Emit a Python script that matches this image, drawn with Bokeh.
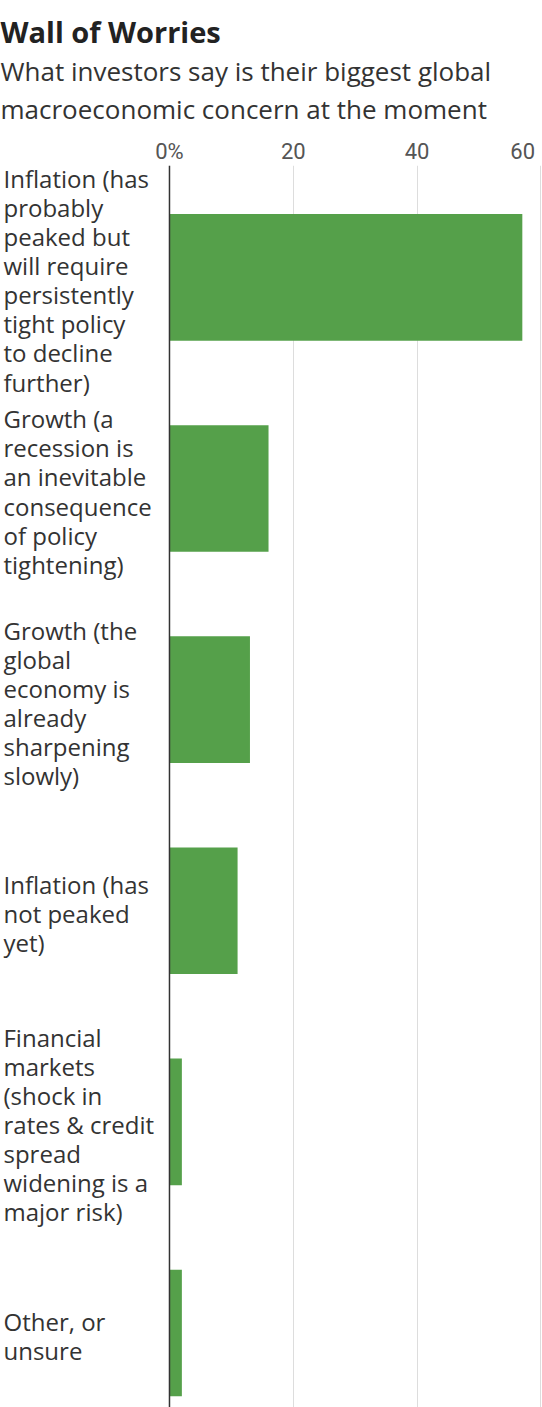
from bokeh.plotting import figure
from bokeh.models import Range1d, FixedTicker, Span, Title, ColumnDataSource
from bokeh.core.properties import value
from bokeh.embed import file_html
from bokeh.resources import INLINE

title = "Wall of Worries"
subtitle_lines = ["What investors say is their biggest global",
                  "macroeconomic concern at the moment"]
categories = [
    "Inflation (has\nprobably\npeaked but\nwill require\npersistently\ntight policy\nto decline\nfurther)",
    "Growth (a\nrecession is\nan inevitable\nconsequence\nof policy\ntightening)",
    "Growth (the\nglobal\neconomy is\nalready\nsharpening\nslowly)",
    "Inflation (has\nnot peaked\nyet)",
    "Financial\nmarkets\n(shock in\nrates & credit\nspread\nwidening is a\nmajor risk)",
    "Other, or\nunsure",
]
values = [57, 16, 13, 11, 2, 2]
ticks = [0, 20, 40, 60]
tick_labels = ["0%", "20", "40", "60"]

positions = list(range(len(categories)))
src = ColumnDataSource(dict(y=positions, v=values, label=categories))

p = figure(width=542, height=1407, title=None,
           x_range=Range1d(-27.30, 60.26), y_range=Range1d(5.353, -0.53),
           x_axis_location="above", y_axis_location=None,
           output_backend="svg", toolbar_location=None, min_border=0)
p.outline_line_color = None
p.background_fill_color = "white"

# the last tick label sits flush with the right edge: pad it with a space
overrides = dict(zip(ticks, tick_labels))
overrides[ticks[-1]] = tick_labels[-1] + "\u2004"

xa = p.xaxis[0]
xa.ticker = FixedTicker(ticks=ticks)
xa.major_label_overrides = overrides
xa.axis_line_color = None
xa.major_tick_line_color = None
xa.minor_tick_line_color = None
xa.major_tick_out = 0
xa.major_tick_in = 0
xa.major_label_standoff = 2
xa.major_label_text_font = "Roboto"
xa.major_label_text_font_size = "22px"
xa.major_label_text_color = "#555555"

p.xgrid.ticker = FixedTicker(ticks=ticks)
p.xgrid.grid_line_color = "#dddddd"
p.xgrid.grid_line_width = 1
p.ygrid.visible = False

p.hbar(y="y", right="v", left=0, height=0.6, source=src,
       fill_color="#55a04a", line_color=None)

p.add_layout(Span(location=0, dimension="height", line_color="#333333", line_width=1.5))

p.text(x=0, y="y", text="label", source=src, x_offset=-166, y_offset=3,
       text_align="left", text_baseline="middle",
       text_font=value("Open Sans"), text_font_size="24px",
       text_color="#333333", text_line_height=0.88)

p.add_layout(Title(text=subtitle_lines[1], align="left", text_font="Open Sans",
                   text_font_size="26px", text_font_style="normal",
                   text_color="#333333", standoff=18), "above")
p.add_layout(Title(text=subtitle_lines[0], align="left", text_font="Open Sans",
                   text_font_size="26px", text_font_style="normal",
                   text_color="#333333", standoff=-19), "above")
p.add_layout(Title(text=title, align="left", text_font="Open Sans", text_font_size="29px",
                   text_font_style="bold", text_color="#222222", standoff=19), "above")

open("out.html", "w").write(file_html(p, INLINE))
